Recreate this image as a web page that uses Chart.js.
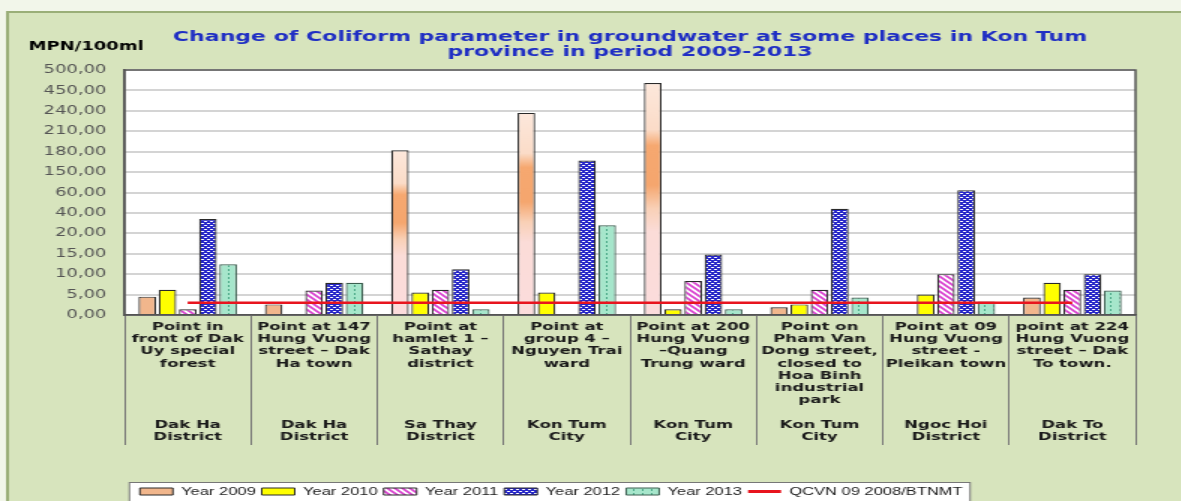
<!DOCTYPE html>
<html>
<head>
<meta charset="utf-8">
<script src="https://cdn.jsdelivr.net/npm/chart.js@4"></script>
<style>
html, body { margin: 0; padding: 0; overflow: hidden; background: #f2f6ea; }
#wrap { width: 787px; height: 512px; transform: scaleX(1.5); transform-origin: 0 0; }
</style>
</head>
<body>
<div id="wrap"><canvas id="myChart"></canvas></div>
<script>
// Tick values of the (uneven) y axis, and the labels printed next to them
const tickValues = [0, 5, 10, 15, 20, 40, 60, 150, 180, 210, 240, 450, 500];
const tickLabels = ['0,00', '5,00', '10,00', '15,00', '20,00', '40,00', '60,00', '150,00', '180,00', '210,00', '240,00', '450,00', '500,00'];

const locations = [
    ['Point in', 'front of Dak', 'Uy special', 'forest'],
    ['Point at 147', 'Hung Vuong', 'street – Dak', 'Ha town'],
    ['Point at', 'hamlet 1 –', 'Sathay', 'district'],
    ['Point at', 'group 4 –', 'Nguyen Trai', 'ward'],
    ['Point at 200', 'Hung Vuong', '–Quang', 'Trung ward'],
    ['Point on', 'Pham Van', 'Dong street,', 'closed to', 'Hoa Binh', 'industrial', 'park'],
    ['Point at 09', 'Hung Vuong', 'street -', 'Pleikan town'],
    ['point at 224', 'Hung Vuong', 'street – Dak', 'To town.'],
];
const districts = [
    ['Dak Ha', 'District'],
    ['Dak Ha', 'District'],
    ['Sa Thay', 'District'],
    ['Kon Tum', 'City'],
    ['Kon Tum', 'City'],
    ['Kon Tum', 'City'],
    ['Ngoc Hoi', 'District'],
    ['Dak To', 'District'],
];

// MPN/100ml
const year2009 = [4.5, 2.6, 182, 237, 468, 1.9, null, 4.3];
const year2010 = [6.2, null, 5.5, 5.5, 1.4, 2.6, 5, 7.9];
const year2011 = [1.4, 6, 6.2, null, 8.3, 6.2, 10, 6.2];
const year2012 = [34, 7.9, 11.2, 167, 14.8, 44, 70, 10];
const year2013 = [12.4, 7.9, 1.4, 27.8, 1.4, 4.3, 3.3, 6];
const qcvn = [3, 3, 3, 3, 3, 3, 3, 3];

/**
 * Converts a value to its position on the evenly spaced tick axis.
 */
const toPos = (v) => {
    if (v === null) {
        return null;
    }
    for (let i = 0; i < tickValues.length - 1; i++) {
        if (v <= tickValues[i + 1]) {
            return i + (v - tickValues[i]) / (tickValues[i + 1] - tickValues[i]);
        }
    }
    return tickValues.length - 1;
};

/**
 * Builds the category labels: location, blank lines, then district at the bottom.
 */
const buildLabels = () => {
    return locations.map((loc, i) => {
        const lines = loc.slice();
        while (lines.length < 8) {
            lines.push('');
        }
        return lines.concat(districts[i]);
    });
};

const makePattern = (ctx, w, h, draw) => {
    const c = document.createElement('canvas');
    c.width = w;
    c.height = h;
    draw(c.getContext('2d'));
    return ctx.createPattern(c, 'repeat');
};

const fill2009 = (context) => {
    const chart = context.chart;
    const yScale = chart.scales.y;
    const value = context.raw;
    if (!yScale || value === null || value === undefined || context.type !== 'data') {
        return '#f1b68c';
    }
    const top = yScale.getPixelForValue(value);
    const base = yScale.getPixelForValue(0);
    if (!Number.isFinite(top) || !Number.isFinite(base) || base - top < 40) {
        return '#f1b68c';
    }
    const g = chart.ctx.createLinearGradient(0, top, 0, base);
    g.addColorStop(0, '#fde8dc');
    g.addColorStop(0.2, '#fbdcc8');
    g.addColorStop(0.27, '#f6a870');
    g.addColorStop(0.44, '#f5a66e');
    g.addColorStop(0.54, '#f9d0b6');
    g.addColorStop(0.64, '#fbdcd8');
    g.addColorStop(1, '#fbdcdc');
    return g;
};

const legendShift = -14;

const panelPlugin = {
    id: 'panel',
    afterLayout: (chart) => {
        chart.legend.left += legendShift;
        chart.legend.right += legendShift;
    },
    beforeDraw: (chart) => {
        const ctx = chart.ctx;
        const a = chart.chartArea;
        ctx.save();
        ctx.fillStyle = '#f2f6ea';
        ctx.fillRect(0, 0, chart.width, chart.height);
        ctx.fillStyle = '#d7e4bd';
        ctx.fillRect(5, 12, chart.width - 5, chart.height - 12);
        ctx.strokeStyle = '#9aae78';
        ctx.lineWidth = 2;
        ctx.beginPath();
        ctx.moveTo(5, chart.height);
        ctx.lineTo(5, 12);
        ctx.lineTo(chart.width, 12);
        ctx.stroke();

        ctx.fillStyle = '#ffffff';
        ctx.fillRect(a.left, a.top, a.width, a.height);

        const boxes = chart.legend.legendHitBoxes;
        if (boxes && boxes.length) {
            const first = boxes[0];
            const last = boxes[boxes.length - 1];
            const cy = first.top + first.height / 2;
            const w = last.left + last.width - first.left + 12;
            ctx.fillStyle = '#ffffff';
            ctx.fillRect(first.left - 7, cy - 9, w, 19);
            ctx.strokeStyle = '#777';
            ctx.lineWidth = 1;
            ctx.strokeRect(first.left - 7, cy - 9, w, 19);
        }

        ctx.fillStyle = '#000';
        ctx.font = 'bold 12px "DejaVu Sans"';
        ctx.textBaseline = 'middle';
        ctx.fillText('MPN/100ml', 19, 47);
        ctx.restore();
    },
    afterDatasetsDraw: (chart) => {
        const ctx = chart.ctx;
        const a = chart.chartArea;
        ctx.save();
        ctx.strokeStyle = '#555';
        ctx.lineWidth = 1.5;
        ctx.strokeRect(a.left, a.top, a.width, a.height);
        ctx.restore();
    },
};

const main = () => {
    const canvas = document.getElementById('myChart');
    const ctx = canvas.getContext('2d');

    const p2011 = makePattern(ctx, 5, 5, (x) => {
        x.fillStyle = '#ffffff';
        x.fillRect(0, 0, 5, 5);
        x.strokeStyle = '#d83cce';
        x.lineWidth = 1.6;
        [-5, 0, 5].forEach((o) => {
            x.beginPath();
            x.moveTo(o - 1, -1);
            x.lineTo(o + 6, 6);
            x.stroke();
        });
    });
    const p2012 = makePattern(ctx, 4, 4, (x) => {
        x.fillStyle = '#2626c8';
        x.fillRect(0, 0, 4, 4);
        x.fillStyle = '#ffffff';
        x.fillRect(0, 1, 2, 1);
        x.fillRect(2, 3, 2, 1);
    });
    const p2013 = makePattern(ctx, 6, 4, (x) => {
        x.fillStyle = '#a6e6cb';
        x.fillRect(0, 0, 6, 4);
        x.fillStyle = '#4aa887';
        x.fillRect(2, 1, 1, 2);
    });

    const barStyle = {
        type: 'bar',
        borderColor: '#2a2a2a',
        borderWidth: 1.2,
        barPercentage: 0.87,
        categoryPercentage: 0.8,
        order: 1,
    };

    const config = {
        type: 'bar',
        data: {
            labels: buildLabels(),
            datasets: [
                { ...barStyle, label: 'Year 2009', data: year2009.map(toPos), backgroundColor: fill2009 },
                { ...barStyle, label: 'Year 2010', data: year2010.map(toPos), backgroundColor: '#ffff00' },
                { ...barStyle, label: 'Year 2011', data: year2011.map(toPos), backgroundColor: p2011 },
                { ...barStyle, label: 'Year 2012', data: year2012.map(toPos), backgroundColor: p2012 },
                { ...barStyle, label: 'Year 2013', data: year2013.map(toPos), backgroundColor: p2013, borderColor: '#3c5e50' },
                {
                    type: 'line',
                    label: 'QCVN 09 2008/BTNMT',
                    data: qcvn.map(toPos),
                    borderColor: '#e8141e',
                    backgroundColor: '#e8141e',
                    borderWidth: 2.5,
                    pointRadius: 0,
                    order: 0,
                },
            ],
        },
        options: {
            responsive: true,
            maintainAspectRatio: false,
            animation: false,
            devicePixelRatio: 1,
            layout: { padding: { left: 6, right: 30, top: 20, bottom: 5 } },
            plugins: {
                title: {
                    display: true,
                    fullSize: false,
                    text: ['Change of Coliform parameter in groundwater at some places in Kon Tum', 'province in period 2009-2013'],
                    color: '#1f2ec4',
                    font: { family: 'DejaVu Sans', size: 14.7, weight: 'bold', lineHeight: 1.0 },
                    padding: { top: 10, bottom: 10.6 },
                },
                legend: {
                    position: 'bottom',
                    labels: {
                        usePointStyle: true,
                        pointStyleWidth: 22,
                        boxHeight: 7,
                        padding: 4,
                        color: '#222',
                        font: { family: 'Liberation Sans', size: 11 },
                        sort: (a, b) => a.datasetIndex - b.datasetIndex,
                        generateLabels: (chart) => {
                            const items = Chart.defaults.plugins.legend.labels.generateLabels(chart);
                            items.forEach((item) => {
                                if (item.datasetIndex === 5) {
                                    item.pointStyle = 'line';
                                    item.lineWidth = 3;
                                } else {
                                    item.pointStyle = 'rect';
                                    item.lineWidth = 1;
                                }
                            });
                            return items;
                        },
                    },
                },
                tooltip: { enabled: false },
            },
            scales: {
                x: {
                    offset: true,
                    grid: {
                        offset: true,
                        drawOnChartArea: false,
                        drawTicks: true,
                        tickLength: 130,
                        color: '#777',
                        tickColor: '#777',
                        lineWidth: 1,
                    },
                    border: { display: true, color: '#555', width: 1.5 },
                    ticks: {
                        autoSkip: false,
                        maxRotation: 0,
                        minRotation: 0,
                        padding: -124,
                        color: '#1a1a1a',
                        font: { family: 'DejaVu Sans', size: 11, weight: 'bold', lineHeight: 1.11 },
                    },
                    afterFit: (scale) => {
                        scale.height = 167;
                    },
                },
                y: {
                    min: 0,
                    max: tickValues.length - 1,
                    ticks: {
                        stepSize: 1,
                        padding: 12,
                        color: '#555',
                        font: { family: 'DejaVu Sans', size: 12 },
                        callback: (v) => tickLabels[v],
                    },
                    grid: { color: '#d4d4d4', lineWidth: 2, drawTicks: false },
                    border: { display: true, color: '#555', width: 1.5 },
                    afterFit: (scale) => {
                        scale.width = 77;
                    },
                },
            },
        },
        plugins: [panelPlugin],
    };

    return new Chart(canvas, config);
};

main();
</script>
</body>
</html>
